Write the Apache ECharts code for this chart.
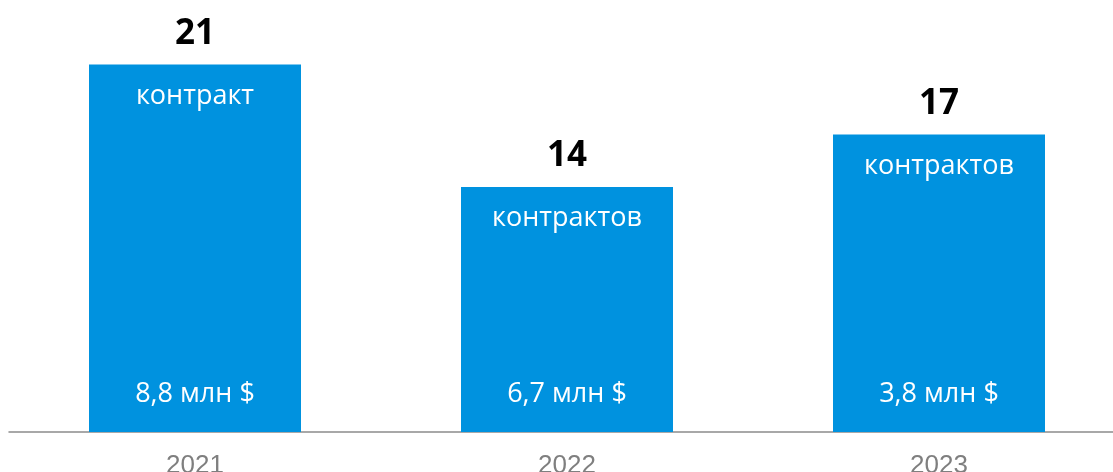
<!DOCTYPE html>
<html>
<head>
<meta charset="utf-8">
<script src="https://cdn.jsdelivr.net/npm/echarts@6/dist/echarts.min.js"></script>
<style>
  html, body { margin: 0; padding: 0; background: #fff; overflow: hidden; }
  /* ось в оригинале уходит за правый край, поэтому холст чуть шире окна */
  #chart { width: 1125px; height: 472px; }
</style>
</head>
<body>
<div id="chart"></div>
<script>
// данные графика
var years = ["2021", "2022", "2023"];
var contracts = [21, 14, 17];
var contractWords = ["контракт", "контрактов", "контрактов"];
var amounts = ["8,8 млн $", "6,7 млн $", "3,8 млн $"];

var chart = echarts.init(document.getElementById("chart"));
var barColor = "#0092DF";

chart.setOption({
  animation: false,
  grid: {
    left: 9,
    right: 0,
    top: 12,
    bottom: 40,
    outerBoundsMode: "none",
    containLabel: false
  },
  xAxis: {
    type: "category",
    data: years,
    axisTick: { show: false },
    axisLine: {
      lineStyle: { color: "#8c8c8c", width: 1.5 }
    },
    axisLabel: {
      color: "#7f7f7f",
      fontFamily: "Liberation Sans",
      fontSize: 26,
      margin: 21
    }
  },
  yAxis: {
    type: "value",
    min: 0,
    max: 24,
    show: false,
    splitLine: { show: false }
  },
  series: [
    {
      // основные столбцы с числом сверху
      type: "bar",
      data: contracts,
      barWidth: 212,
      itemStyle: { color: barColor },
      label: {
        show: true,
        position: "top",
        distance: 13,
        color: "#000",
        fontFamily: "Open Sans",
        fontWeight: "bold",
        fontSize: 35
      },
      z: 2
    },
    {
      // подпись "контракт(ов)" внутри сверху
      type: "bar",
      data: contracts,
      barWidth: 212,
      barGap: "-100%",
      itemStyle: { color: "transparent" },
      label: {
        show: true,
        position: "insideTop",
        distance: 18,
        color: "#fff",
        fontFamily: "Open Sans",
        fontSize: 27,
        formatter: function (p) { return contractWords[p.dataIndex]; }
      },
      z: 3
    },
    {
      // сумма внизу столбца
      type: "bar",
      data: contracts,
      barWidth: 212,
      barGap: "-100%",
      itemStyle: { color: "transparent" },
      label: {
        show: true,
        position: "insideBottom",
        distance: 24,
        color: "#fff",
        fontFamily: "Open Sans",
        fontSize: 27,
        formatter: function (p) { return amounts[p.dataIndex]; }
      },
      z: 3
    }
  ]
});
</script>
</body>
</html>
